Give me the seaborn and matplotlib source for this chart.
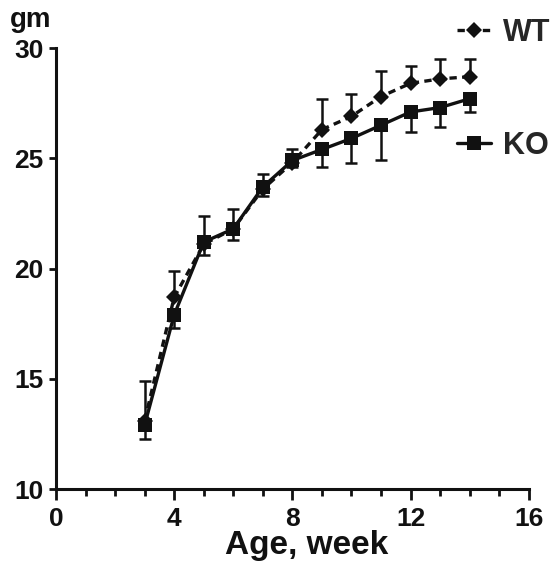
import numpy as np
import pandas as pd
import matplotlib
matplotlib.use("Agg")
import matplotlib.pyplot as plt
import seaborn as sns
from matplotlib.ticker import MultipleLocator

# body weight by age
weeks = [3, 4, 5, 6, 7, 8, 9, 10, 11, 12, 13, 14]
wt_mean = [13.1, 18.7, 21.1, 21.8, 23.6, 24.8, 26.3, 26.9, 27.8, 28.4, 28.6, 28.7]
wt_err_up = [1.8, 1.2, 1.3, 0.9, 0.7, 0.6, 1.4, 1.0, 1.15, 0.8, 0.9, 0.8]
ko_mean = [12.9, 17.9, 21.2, 21.8, 23.7, 24.9, 25.4, 25.9, 26.5, 27.1, 27.3, 27.7]
ko_err_dn = [0.65, 0.6, 0.6, 0.5, 0.4, 0.3, 0.8, 1.1, 1.6, 0.9, 0.9, 0.6]

df = pd.DataFrame({
    "week": weeks * 2,
    "weight": wt_mean + ko_mean,
    "group": ["WT"] * len(weeks) + ["KO"] * len(weeks),
})

sns.set_theme(style="ticks")
plt.rcParams["font.family"] = ["Liberation Sans", "DejaVu Sans"]
plt.rcParams["font.weight"] = "bold"

fig = plt.figure(figsize=(5.56, 5.61), dpi=100)
ax = fig.add_axes([0.1007, 0.1283, 0.8503, 0.7861])

ink = "#111111"

# one-sided error bars: WT up, KO down
ax.errorbar(weeks, wt_mean, yerr=[np.zeros(len(weeks)), wt_err_up], fmt="none",
            ecolor=ink, elinewidth=1.8, capsize=4, capthick=1.8, zorder=2)
ax.errorbar(weeks, ko_mean, yerr=[ko_err_dn, np.zeros(len(weeks))], fmt="none",
            ecolor=ink, elinewidth=1.8, capsize=4, capthick=1.8, zorder=2)

sns.lineplot(data=df[df.group == "WT"], x="week", y="weight", ax=ax, color=ink,
             linewidth=2.4, linestyle=(0, (2.2, 1.6)), marker="D", markersize=8,
             markeredgewidth=0, zorder=3, legend=False)
sns.lineplot(data=df[df.group == "KO"], x="week", y="weight", ax=ax, color=ink,
             linewidth=2.4, marker="s", markersize=10, markeredgewidth=0,
             zorder=4, legend=False)

ax.set_xlim(0, 16)
ax.set_ylim(10, 30)
ax.set_xticks([0, 4, 8, 12, 16])
ax.xaxis.set_minor_locator(MultipleLocator(1))
ax.set_yticks([10, 15, 20, 25, 30])
sns.despine(ax=ax)
for s in ["left", "bottom"]:
    ax.spines[s].set_linewidth(2.2)
    ax.spines[s].set_color(ink)
ax.tick_params(axis="y", which="major", length=5, width=2, color=ink,
               labelsize=19, labelcolor=ink, pad=4)
ax.tick_params(axis="x", which="major", length=8, width=2, color=ink,
               labelsize=19, labelcolor=ink, pad=5)
ax.tick_params(axis="x", which="minor", length=5, width=2, color=ink)
for lab in ax.get_xticklabels() + ax.get_yticklabels():
    lab.set_fontweight("bold")

ax.set_xlabel("Age, week", fontsize=24, fontweight="bold", color=ink)
ax.xaxis.set_label_coords(0.53, -0.092)
ax.set_ylabel("")
fig.text(0.018, 0.952, "gm", fontsize=20, fontweight="bold", color=ink,
         ha="left", va="baseline")

# legends placed separately, as in the original
h = ax.get_lines()
wt_line = [l for l in h if l.get_marker() == "D"][0]
ko_line = [l for l in h if l.get_marker() == "s"][0]
leg_kw = dict(loc="center left", frameon=False, handlelength=1.1,
              handletextpad=0.4, borderpad=0, borderaxespad=0,
              prop={"size": 22, "weight": "bold"})
leg1 = ax.legend([wt_line], ["WT"], bbox_to_anchor=(0.848, 1.034), **leg_kw)
ax.add_artist(leg1)
ax.legend([ko_line], ["KO"], bbox_to_anchor=(0.848, 0.778), **leg_kw)

fig.savefig("out.png", dpi=100, facecolor="white")
